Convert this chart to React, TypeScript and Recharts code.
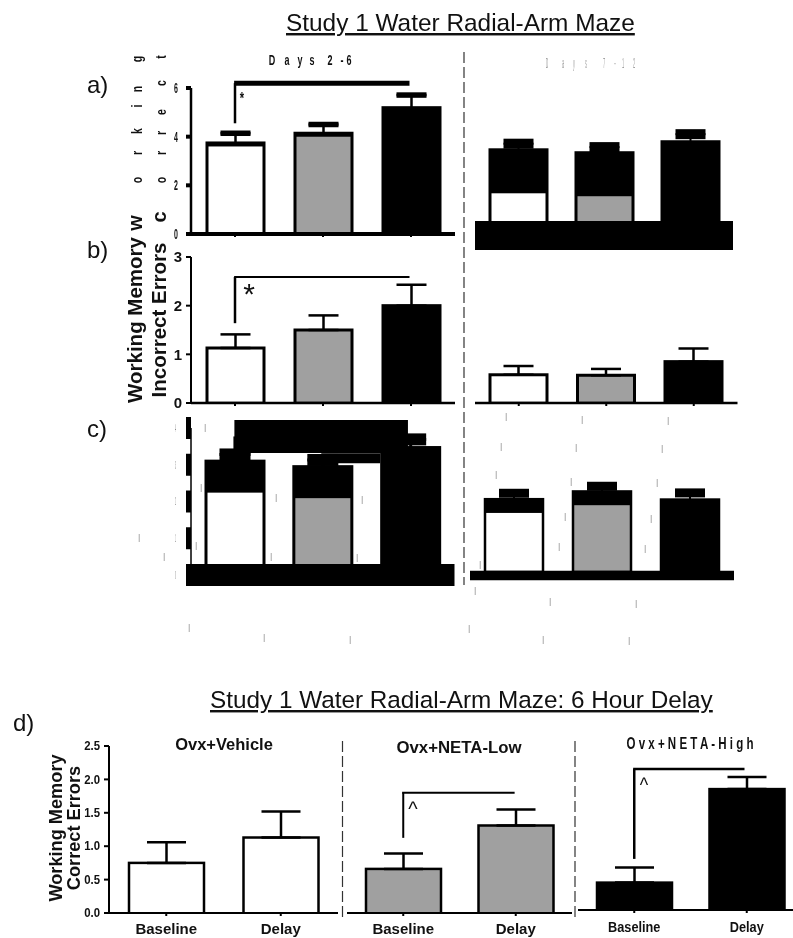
import { BarChart, Bar, XAxis, YAxis, ErrorBar, ReferenceLine } from 'recharts'

const groups = ['Ovx+Vehicle', 'Ovx+NETA-Low', 'Ovx+NETA-High']
const sessions = ['Baseline', 'Delay']

const WHITE = '#ffffff'
const GRAY = '#a0a0a4'
const BLACK = '#000000'
const groupFills = [WHITE, GRAY, BLACK]

// [mean] and [top of the error bar] for each panel
const aEarlyMeans = [3.7, 4.1, 5.15]
const aEarlyTops = [4.14, 4.5, 5.71]
const aLateMeans = [2.65, 2.53, 2.98]
const aLateTops = [3.76, 3.62, 4.15]
const bEarlyMeans = [1.13, 1.5, 2.0]
const bEarlyTops = [1.41, 1.8, 2.43]
const bLateMeans = [0.58, 0.57, 0.85]
const bLateTops = [0.76, 0.7, 1.12]
const cEarlyMeans = [2.69, 2.54, 3.06]
const cEarlyTops = [3.28, 3.13, 3.69]
const cLateMeans = [1.9, 2.11, 1.89]
const cLateTops = [2.23, 2.42, 2.24]
const dVehicleMeans = [0.75, 1.13]
const dVehicleTops = [1.06, 1.52]
const dLowMeans = [0.66, 1.31]
const dLowTops = [0.89, 1.55]
const dHighMeans = [0.41, 1.81]
const dHighTops = [0.635, 1.99]

const aTicks = [0, 2, 4, 6]
const bTicks = [0, 1, 2, 3]
const cTicks = [0, 1, 2, 3, 4]
const dTicks = [0, 0.5, 1, 1.5, 2, 2.5]

const PAD_LEFT = 70
const PAD_TOP = 50
const PAD_RIGHT = 30
const PAD_BOTTOM = 30
const Y_AXIS_W = 40
const X_AXIS_H = 30
const FONT = '"Liberation Sans", Arial, sans-serif'

// span only gives the hidden position axis its 0..n range for the brackets
const rows = (names: string[], means: number[], tops: number[], fills: string[]) =>
  names.map((name, i) => ({
    name,
    mean: means[i],
    err: [0, tops[i] - means[i]],
    fill: fills[i],
    span: i === names.length - 1 ? names.length : 0,
  }))

const barShape =
  (topStroke: number, sideStroke: number, capW: number, capH: number, baseInset: number) =>
  (props: any) => {
    const { x, y, width, height, payload } = props
    const unit = height / payload.mean
    const capY = y - payload.err[1] * unit
    const innerH = height - topStroke / 2 - baseInset
    return (
      <g>
        <rect x={x - sideStroke / 2} y={y - topStroke / 2} width={width + sideStroke} height={height + topStroke / 2} fill={BLACK} />
        {innerH > 0 && (
          <rect x={x + sideStroke / 2} y={y + topStroke / 2} width={width - sideStroke} height={innerH} fill={payload.fill} />
        )}
        {capH > 0 && <rect x={x + width / 2 - capW / 2} y={capY - capH / 2} width={capW} height={capH} fill={BLACK} />}
      </g>
    )
  }

const valueTick =
  (fontSize: number, scaleX: number, decimals: number, weight: string, fill = '#111') =>
  (props: any) => {
    const { x, y, payload } = props
    return (
      <text
        transform={`translate(${x},${y + fontSize * 0.35}) scale(${scaleX},1)`}
        textAnchor="end"
        fontSize={fontSize}
        fontWeight={weight}
        fontFamily={FONT}
        fill={fill}
      >
        {Number(payload.value).toFixed(decimals)}
      </text>
    )
  }

const nameTick = (scaleX: number, dy: number) => (props: any) => {
  const { x, y, payload } = props
  return (
    <text
      transform={`translate(${x},${y + dy}) scale(${scaleX},1)`}
      textAnchor="middle"
      fontSize={15}
      fontWeight="bold"
      fontFamily={FONT}
      fill="#111"
    >
      {payload.value}
    </text>
  )
}

const noTick = () => <g />

type Seg = [number, number, number, number, number]

interface PanelProps {
  left: number
  right: number
  top: number
  base: number
  max: number
  data: any[]
  barSize: number
  topStroke: number
  sideStroke: number
  stem: number
  capW: number
  capH?: number
  baseStroke: number
  ticks?: number[]
  yTick?: any
  tickSize?: number
  tickStroke?: number
  tickMargin?: number
  axisStroke?: number
  xTick?: any
  xTickSize?: number
  segments?: Seg[]
}

const Panel = ({
  left, right, top, base, max, data, barSize, topStroke, sideStroke, stem, capW, capH = 0,
  baseStroke, ticks, yTick, tickSize = 5, tickStroke = 2, tickMargin = 4, axisStroke = 2,
  xTick, xTickSize = 3, segments = [],
}: PanelProps) => {
  const w = right - left
  const h = base - top
  return (
    <div style={{ position: 'absolute', left: left - PAD_LEFT, top: top - PAD_TOP }}>
      <BarChart
        width={w + PAD_LEFT + PAD_RIGHT}
        height={h + PAD_TOP + PAD_BOTTOM}
        data={data}
        barCategoryGap={0}
        margin={{
          left: ticks ? PAD_LEFT - Y_AXIS_W : PAD_LEFT,
          right: PAD_RIGHT,
          top: PAD_TOP,
          bottom: PAD_BOTTOM - X_AXIS_H,
        }}
      >
        <XAxis
          dataKey="name"
          height={X_AXIS_H}
          axisLine={{ stroke: BLACK, strokeWidth: baseStroke }}
          tickLine={{ stroke: BLACK, strokeWidth: 2 }}
          tickSize={xTickSize}
          tick={xTick || noTick}
          interval={0}
        />
        <XAxis xAxisId="pos" dataKey="span" type="number" domain={[0, data.length]} allowDataOverflow hide />
        {ticks ? (
          <YAxis
            width={Y_AXIS_W}
            domain={[0, max]}
            ticks={ticks}
            interval={0}
            axisLine={{ stroke: BLACK, strokeWidth: axisStroke }}
            tickLine={{ stroke: BLACK, strokeWidth: tickStroke }}
            tickSize={tickSize}
            tickMargin={tickMargin}
            tick={yTick}
          />
        ) : (
          <YAxis hide domain={[0, max]} />
        )}
        <Bar
          dataKey="mean"
          barSize={barSize}
          isAnimationActive={false}
          shape={barShape(topStroke, sideStroke, capW, capH, baseStroke / 2)}
        >
          <ErrorBar dataKey="err" direction="y" width={capW / 2} stroke={BLACK} strokeWidth={stem} isAnimationActive={false} />
        </Bar>
        {segments.map(([x1, y1, x2, y2, sw], i) => (
          <ReferenceLine
            key={i}
            xAxisId="pos"
            ifOverflow="visible"
            stroke={BLACK}
            strokeWidth={sw}
            segment={[{ x: x1, y: y1 }, { x: x2, y: y2 }]}
          />
        ))}
      </BarChart>
    </div>
  )
}

// squeezed text, most of it comes from the stretched figure panels
const T = ({ x, y, s, size = 14, sx = 1, rot = 0, bold = false, fill = '#111', anchor = 'middle' }: any) => (
  <text
    transform={`translate(${x},${y}) rotate(${rot}) scale(${sx},1)`}
    textAnchor={anchor}
    fontSize={size}
    fontWeight={bold ? 'bold' : 'normal'}
    fontFamily={FONT}
    fill={fill}
  >
    {s}
  </text>
)

const workingLetters: [string, number][] = [['w', 223], ['o', 180], ['r', 153], ['k', 131], ['i', 106], ['n', 89], ['g', 59]]
const correctLetters: [string, number][] = [['c', 217], ['o', 180], ['r', 153], ['r', 133], ['e', 112], ['c', 83], ['t', 57]]
const daysEarly: [string, number][] = [['D', 272], ['a', 287], ['y', 300], ['s', 312], ['2', 330], ['-', 342], ['6', 349]]
const daysLate: [string, number][] = [['D', 547], ['a', 563], ['y', 574], ['s', 586], ['7', 604], ['-', 615], ['1', 623], ['2', 634]]
const specks: [number, number][] = [
  [506, 421], [582, 424], [668, 425], [501, 451], [576, 452], [662, 453], [496, 479], [571, 486], [657, 487],
  [565, 521], [651, 523], [559, 551], [645, 553], [480, 569], [475, 595], [550, 606], [636, 608], [469, 633],
  [543, 644], [629, 645], [196, 550], [201, 492], [276, 502], [362, 504], [271, 561], [357, 562], [205, 432],
  [139, 542], [164, 561], [189, 632], [264, 642], [350, 644],
]
const dashLines: [number, number, number][] = [
  [464, 52, 585],
  [342.5, 741, 920],
  [575, 741, 920],
]

export default function App() {
  return (
    <div style={{ position: 'absolute', left: 0, top: 0, width: 793, height: 938, overflow: 'hidden', background: '#fff', filter: 'grayscale(1)' }}>
      {/* a */}
      <Panel left={190.5} right={454.5} top={88} base={234} max={6} data={rows(groups, aEarlyMeans, aEarlyTops, groupFills)}
        barSize={57} topStroke={5} sideStroke={3} stem={2.5} capW={30} capH={5.5} baseStroke={4}
        ticks={aTicks} yTick={valueTick(14, 0.5, 0, 'bold')} tickStroke={4} tickMargin={8} axisStroke={2.5}
        segments={[[0.49, 6.2, 2.483, 6.2, 5], [0.5, 6.2, 0.5, 4.55, 2.5]]} />
      <Panel left={475} right={733} top={89} base={235.5} max={6} data={rows(groups, aLateMeans, aLateTops, groupFills)}
        barSize={57} topStroke={45} sideStroke={3} stem={2} capW={30} capH={10} baseStroke={29} xTickSize={0} />
      {/* b */}
      <Panel left={190.5} right={454.5} top={257} base={403} max={3} data={rows(groups, bEarlyMeans, bEarlyTops, groupFills)}
        barSize={57} topStroke={3} sideStroke={3} stem={2.5} capW={30} baseStroke={2.5}
        ticks={bTicks} yTick={valueTick(15, 1, 0, 'bold')} axisStroke={2}
        segments={[[0.49, 2.59, 2.483, 2.59, 2], [0.5, 2.59, 0.5, 1.64, 2.5]]} />
      <Panel left={474.5} right={737} top={257} base={403} max={3} data={rows(groups, bLateMeans, bLateTops, groupFills)}
        barSize={57} topStroke={3} sideStroke={3} stem={2.5} capW={30} baseStroke={2.5} />
      {/* c */}
      <Panel left={190.5} right={454} top={428} base={575} max={4} data={rows(groups, cEarlyMeans, cEarlyTops, groupFills)}
        barSize={58} topStroke={33} sideStroke={3} stem={3} capW={31} capH={12} baseStroke={22} xTickSize={0}
        ticks={cTicks} yTick={valueTick(11, 0.12, 0, 'normal', '#555')} tickStroke={22} tickMargin={10} axisStroke={1.5}
        segments={[
          [0.494, 3.77, 2.47, 3.77, 33],
          [0.5, 3.77, 0.5, 2.6, 3],
          [1.483, 3.18, 2.153, 3.18, 10],
        ]} />
      <Panel left={470} right={734} top={428} base={575.5} max={4} data={rows(groups, cLateMeans, cLateTops, groupFills)}
        barSize={58} topStroke={15} sideStroke={2.5} stem={2} capW={30} capH={9} baseStroke={9.5} xTickSize={0} />
      {/* d */}
      <Panel left={109} right={338} top={746} base={913} max={2.5} data={rows(sessions, dVehicleMeans, dVehicleTops, [WHITE, WHITE])}
        barSize={75} topStroke={2.5} sideStroke={2.5} stem={2.5} capW={39} baseStroke={2}
        ticks={dTicks} yTick={valueTick(12, 0.95, 1, 'bold')} xTick={nameTick(1, 16)} />
      <Panel left={347} right={572} top={746} base={913} max={2.5} data={rows(sessions, dLowMeans, dLowTops, [GRAY, GRAY])}
        barSize={75} topStroke={2.5} sideStroke={2.5} stem={2.5} capW={39} baseStroke={2} xTick={nameTick(1, 16)}
        segments={[[0.49, 1.8, 1.49, 1.8, 2], [0.5, 1.8, 0.5, 1.125, 2]]} />
      <Panel left={578} right={803} top={743} base={910} max={2.5} data={rows(sessions, dHighMeans, dHighTops, [BLACK, BLACK])}
        barSize={75} topStroke={2.5} sideStroke={2.5} stem={2.5} capW={39} baseStroke={2} xTick={nameTick(0.85, 17)}
        segments={[[0.49, 2.11, 1.48, 2.11, 2.5], [0.5, 2.11, 0.5, 0.765, 2.5]]} />

      <svg width={793} height={938} style={{ position: 'absolute', left: 0, top: 0, pointerEvents: 'none' }}>
        <text x={286} y={31} fontSize={24.4} fontFamily={FONT} fill="#111" textDecoration="underline">Study 1 Water Radial-Arm Maze</text>
        <text x={210} y={708} fontSize={24.3} fontFamily={FONT} fill="#111" textDecoration="underline">Study 1 Water Radial-Arm Maze: 6 Hour Delay</text>

        <T x={87} y={93} s="a)" size={24} anchor="start" />
        <T x={87} y={258} s="b)" size={24} anchor="start" />
        <T x={87} y={437} s="c)" size={24} anchor="start" />
        <T x={13} y={731} s="d)" size={24} anchor="start" />

        {dashLines.map(([x, y1, y2], i) => (
          <line key={i} x1={x} x2={x} y1={y1} y2={y2} stroke="#333" strokeWidth={1.2} strokeDasharray="11 4" />
        ))}

        <T x={142} y={320} s="Working Memory" size={20.5} bold rot={-90} anchor="middle" />
        <T x={166} y={320} s="Incorrect Errors" size={20.5} bold rot={-90} anchor="middle" />
        {workingLetters.map(([s, y], i) => (
          <T key={i} x={142} y={y} s={s} size={i === 0 ? 20 : 14} bold rot={-90} sx={i === 0 ? 1 : 0.75} />
        ))}
        {correctLetters.map(([s, y], i) => (
          <T key={i} x={166} y={y} s={s} size={i === 0 ? 20 : 14} bold rot={-90} sx={i === 0 ? 1 : 0.75} />
        ))}

        {daysEarly.map(([s, x], i) => (
          <T key={i} x={x} y={65} s={s} size={15} sx={0.6} bold />
        ))}
        {daysLate.map(([s, x], i) => (
          <T key={i} x={x} y={68} s={s} size={15} sx={0.2} fill="#888" />
        ))}
        {specks.map(([x, y], i) => (
          <T key={i} x={x} y={y} s="l" size={11} sx={0.5} fill="#555" />
        ))}

        <T x={242} y={104} s="*" size={16} sx={0.7} bold />
        <T x={249} y={304} s="*" size={30} />
        <T x={413} y={816} s="^" size={20} />
        <T x={644} y={792} s="^" size={20} sx={0.9} />

        <T x={224} y={750} s="Ovx+Vehicle" size={16.5} bold />
        <T x={459} y={753} s="Ovx+NETA-Low" size={16.8} bold />
        <T x={690} y={749} s="O v x + N E T A - H i g h" size={17} bold sx={0.68} />
        <T x={62} y={828} s="Working Memory" size={18.2} bold rot={-90} />
        <T x={80} y={828} s="Correct Errors" size={18.2} bold rot={-90} />
      </svg>
    </div>
  )
}
